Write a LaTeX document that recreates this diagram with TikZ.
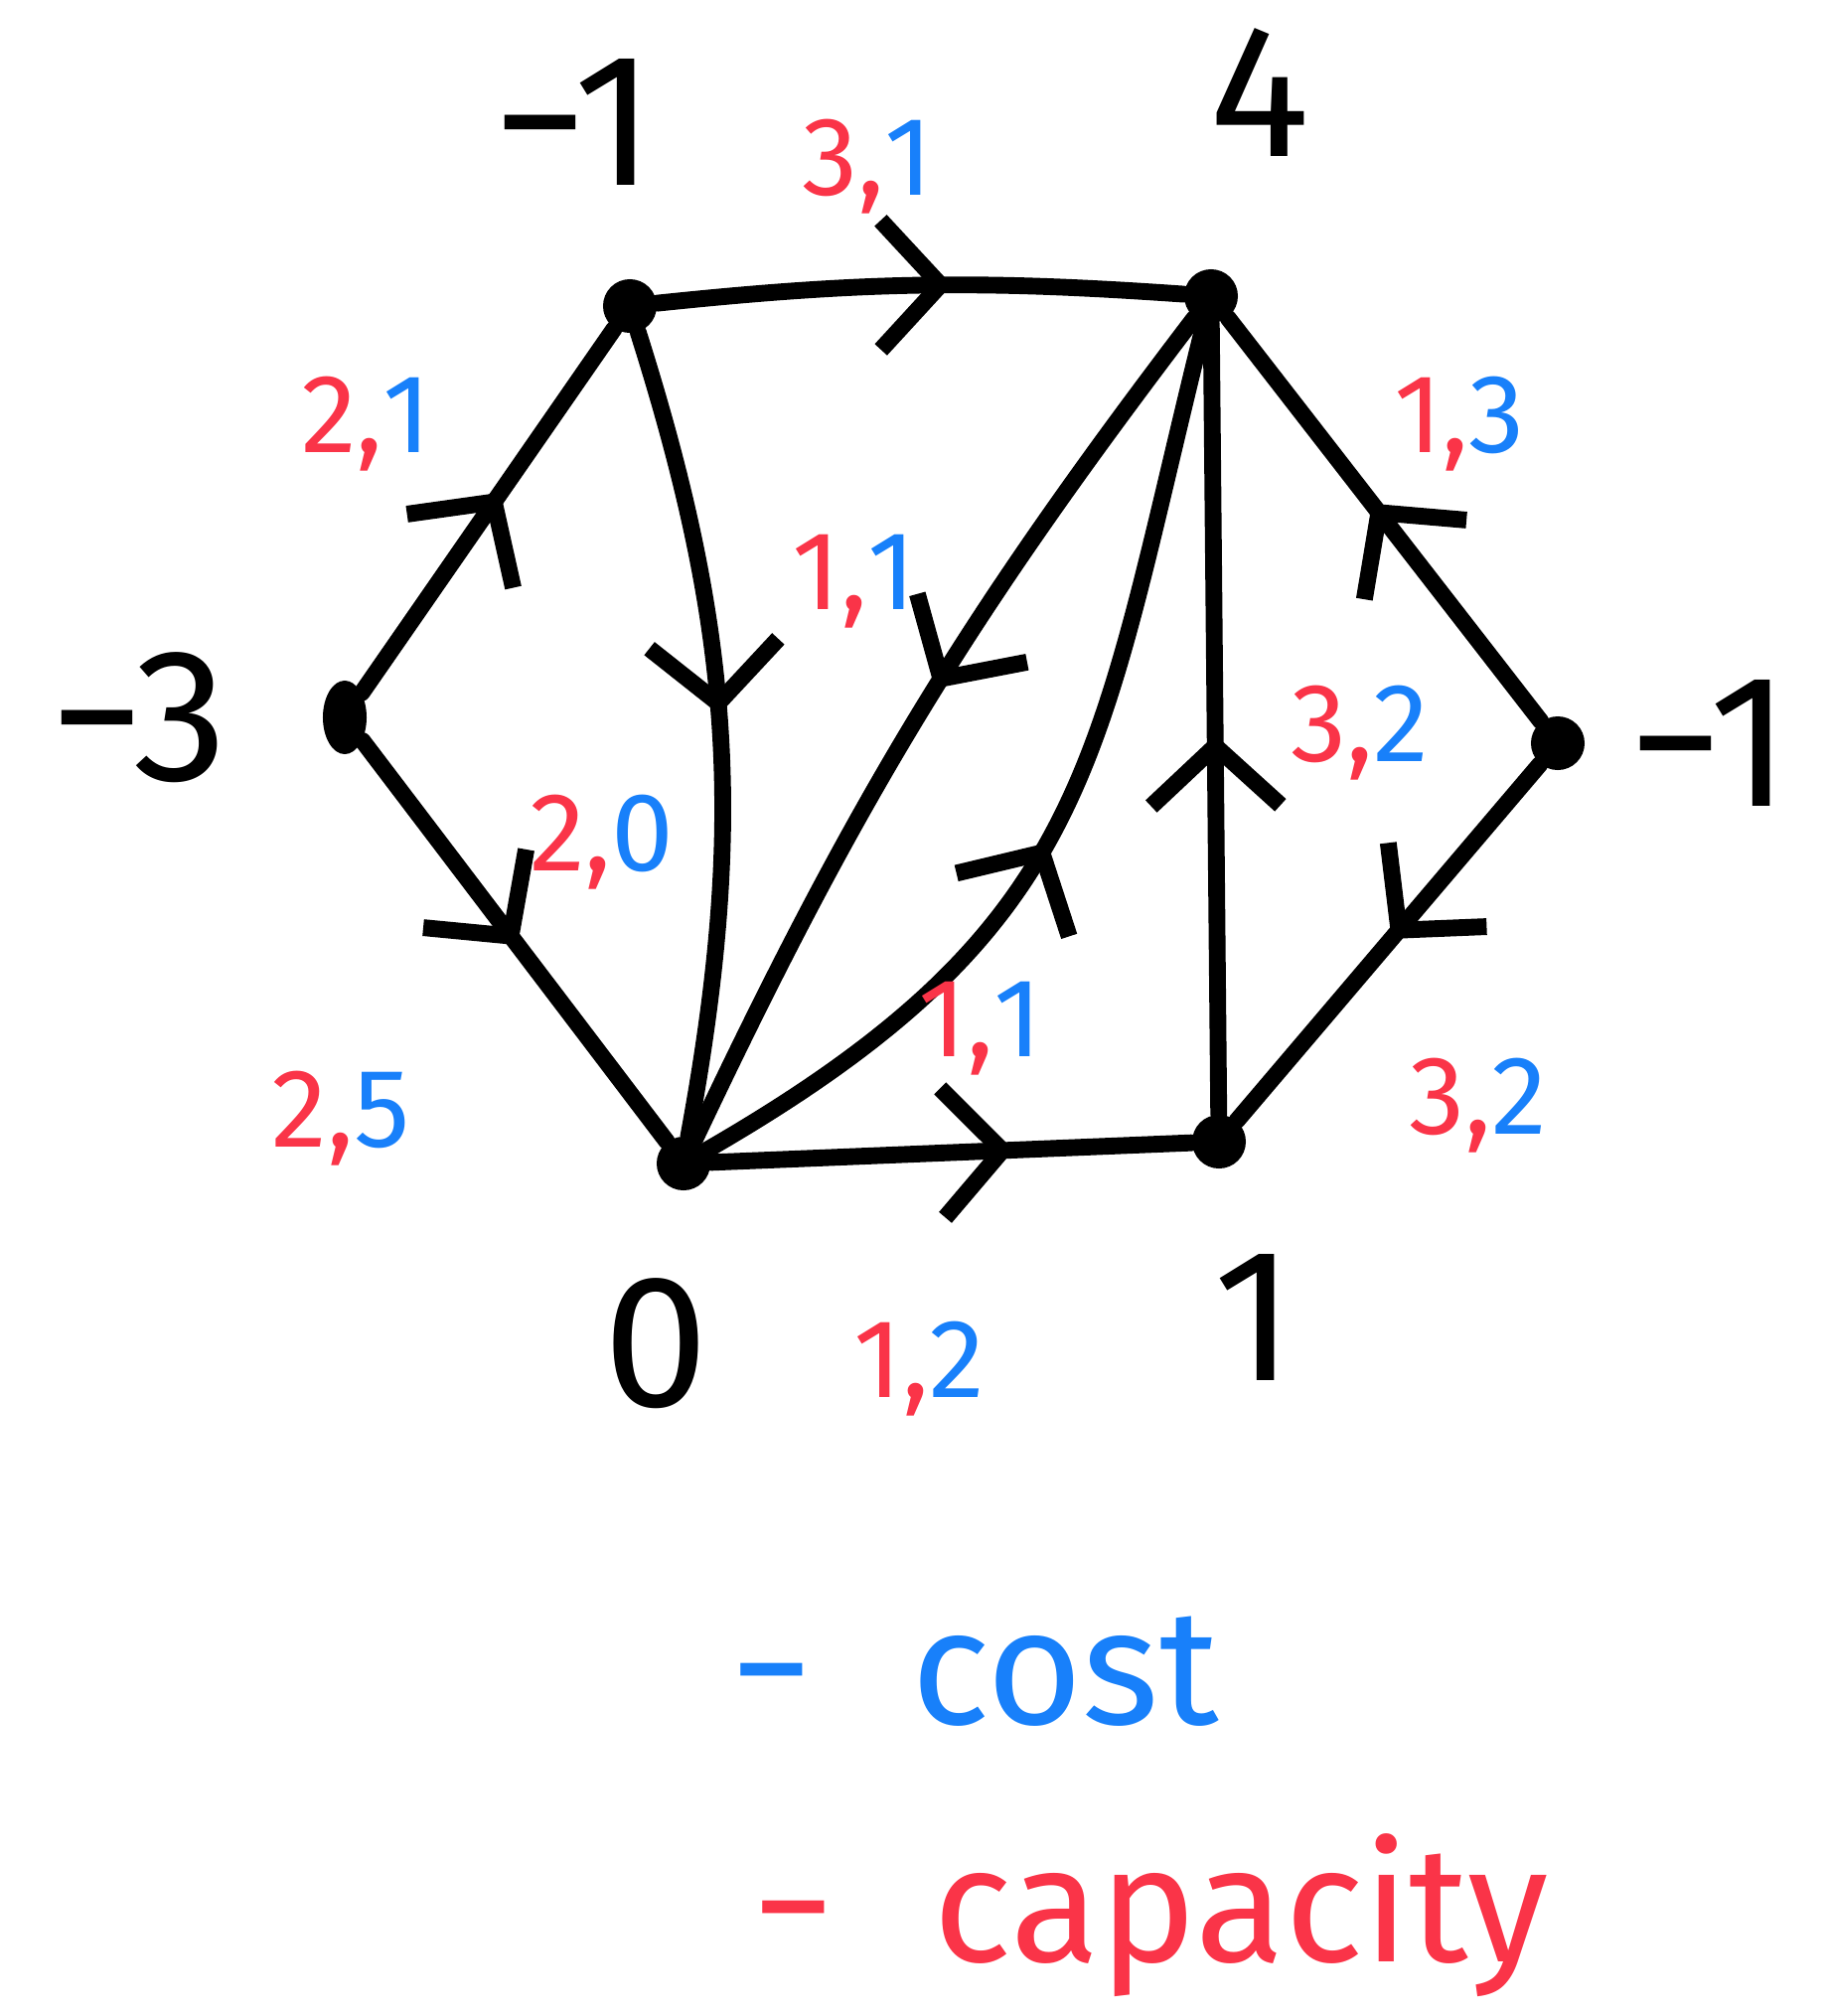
\documentclass[tikz,border=0pt]{standalone}
\usepackage{fontspec}
\setmainfont{Fira Sans}
\usepackage{xcolor}
\usetikzlibrary{positioning,arrows.meta,decorations.markings,shapes.geometric}
\definecolor{capred}{RGB}{250,52,72}
\definecolor{costblue}{RGB}{24,128,250}
\newcommand{\capcost}[2]{\textcolor{capred}{#1,}\textcolor{costblue}{#2}}

\begin{document}
\begin{tikzpicture}[x=0.01cm, y=-0.01cm,
  vtx/.style={circle, fill=black, minimum size=5.4mm, inner sep=0pt},
  num/.style={font=\fontsize{54}{60}\selectfont, inner sep=0pt},
  lbl/.style={font=\fontsize{32}{38}\selectfont, inner sep=0pt},
  key/.style={font=\fontsize{47}{52}\selectfont, anchor=west, inner sep=0pt},
  ln/.style={line width=4.8pt, line cap=round, line join=round},
  arr/.style={ln, postaction={decorate, decoration={markings,
    mark=at position #1 with {\arrow{Straight Barb[length=6mm, width=13mm]}}}}},
  arr/.default=0.5]
  \useasboundingbox (0,0) rectangle (1839,2029);
  % vertices
  \node[vtx, ellipse, minimum width=4.4mm, minimum height=7.4mm] (vL) at (347,722) {};
  \node[vtx] (vTL) at (634,308) {};
  \node[vtx] (vTR) at (1219,298) {};
  \node[vtx] (vR) at (1568,748) {};
  \node[vtx] (vBR) at (1227,1149) {};
  \node[vtx] (vBL) at (688,1171) {};
  % supplies
  \node[num] (kL) at (140,722) {−3};
  \node[num] (kTL) at (578,123) {−1};
  \node[num] (kTR) at (1268,93) {4};
  \node[num] (kR) at (1721,748) {−1};
  \node[num] (kBR) at (1263,1326) {1};
  \node[num] (kBL) at (660,1352) {0};
  % arcs
  \draw[arr=0.55] (vL) -- (vTL);
  \draw[arr=0.51] (vL) -- (vBL);
  \draw[arr=0.56] (vTL) to[bend left=5] (vTR);
  \draw[arr=0.48] (vTL) to[bend left=14] (vBL);
  \draw[arr=0.47] (vTR) to[bend right=6] (vBL);
  \draw[arr=0.46] (vBL) to[out=30, in=-104, looseness=1.2] (vTR);
  \draw[arr=0.54] (vR) -- (vTR);
  \draw[arr=0.48] (vBR) -- (vTR);
  \draw[arr=0.49] (vR) -- (vBR);
  \draw[arr=0.63] (vBL) -- (vBR);
  % capacity, cost
  \node[lbl] (cLTL) at (369,427) {\capcost{2}{1}};
  \node[lbl] (cLBL) at (343,1126) {\capcost{2}{5}};
  \node[lbl] (cTLTR) at (873,168) {\capcost{3}{1}};
  \node[lbl] (cTLBL) at (606,848) {\capcost{2}{0}};
  \node[lbl] (cTRBL) at (860,585) {\capcost{1}{1}};
  \node[lbl] (cBLTR) at (987,1035) {\capcost{1}{1}};
  \node[lbl] (cRTR) at (1469,427) {\capcost{1}{3}};
  \node[lbl] (cBRTR) at (1369,738) {\capcost{3}{2}};
  \node[lbl] (cRBR) at (1488,1113) {\capcost{3}{2}};
  \node[lbl] (cBLBR) at (925,1378) {\capcost{1}{2}};
  % key
  \node[key, text=costblue] (kcost) at (735,1682) {−\hspace{0.6em}cost};
  \node[key, text=capred] (kcap) at (757,1928) {−\hspace{0.6em}capacity};
\end{tikzpicture}
\end{document}
